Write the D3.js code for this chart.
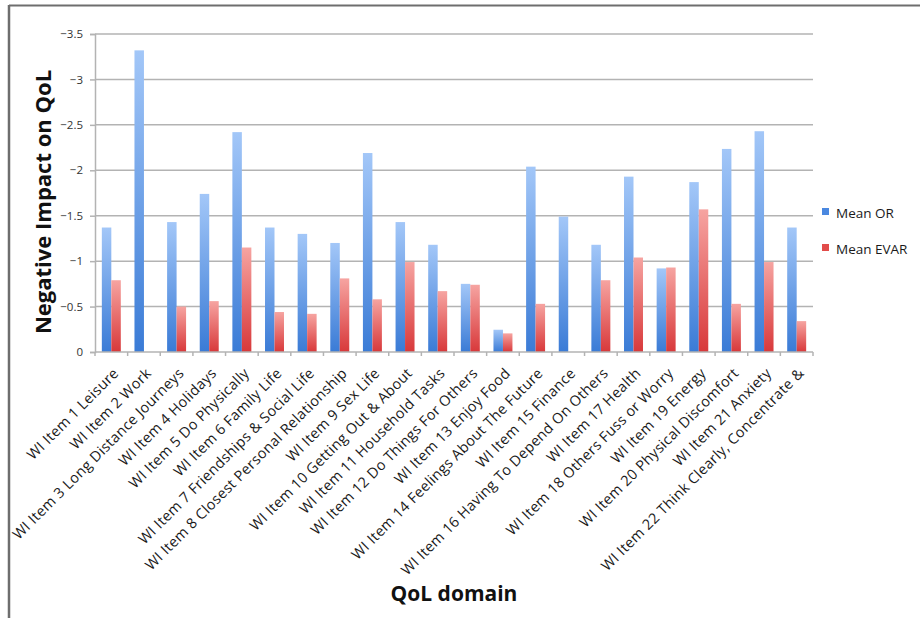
<!DOCTYPE html>
<html>
<head>
<meta charset="utf-8">
<script src="https://cdn.jsdelivr.net/npm/d3@7"></script>
<style>
  html, body { margin: 0; padding: 0; background: #fff; }
  svg { display: block; font-family: "Open Sans", "Noto Sans", sans-serif; }
</style>
</head>
<body>
<svg id="chart" width="920" height="618"></svg>
<script>
// QoL domains (x categories)
const categories = [
  "WI Item 1 Leisure",
  "WI Item 2 Work",
  "WI Item 3 Long Distance Journeys",
  "WI Item 4 Holidays",
  "WI Item 5 Do Physically",
  "WI Item 6 Family Life",
  "WI Item 7 Friendships & Social Life",
  "WI Item 8 Closest Personal Relationship",
  "WI Item 9 Sex Life",
  "WI Item 10 Getting Out & About",
  "WI Item 11 Household Tasks",
  "WI Item 12 Do Things For Others",
  "WI Item 13 Enjoy Food",
  "WI Item 14 Feelings About The Future",
  "WI Item 15 Finance",
  "WI Item 16 Having To Depend On Others",
  "WI Item 17 Health",
  "WI Item 18 Others Fuss or Worry",
  "WI Item 19 Energy",
  "WI Item 20 Physical Discomfort",
  "WI Item 21 Anxiety",
  "WI Item 22 Think Clearly, Concentrate &"
];

const seriesNames = ["Mean OR", "Mean EVAR"];

const meanOR = [-1.37, -3.32, -1.43, -1.74, -2.42, -1.37, -1.30, -1.20, -2.19, -1.43, -1.18,
                -0.75, -0.245, -2.04, -1.49, -1.18, -1.93, -0.92, -1.87, -2.235, -2.43, -1.37];
const meanEVAR = [-0.79, 0, -0.50, -0.56, -1.15, -0.44, -0.42, -0.81, -0.58, -0.99, -0.67,
                  -0.74, -0.205, -0.53, 0, -0.79, -1.04, -0.93, -1.57, -0.53, -0.99, -0.34];

const yTicks = [0, -0.5, -1, -1.5, -2, -2.5, -3, -3.5];

const svg = d3.select("#chart");
const plotLeft = 95, plotRight = 813, plotTop = 34, plotBottom = 352;

// frame lines
svg.append("line").attr("x1", 9).attr("x2", 920).attr("y1", 5.5).attr("y2", 5.5)
  .attr("stroke", "#6e6e6e").attr("stroke-width", 2);
svg.append("line").attr("x1", 9).attr("x2", 9).attr("y1", 5).attr("y2", 618)
  .attr("stroke", "#6e6e6e").attr("stroke-width", 2.5);

const x = d3.scaleBand().domain(categories).range([plotLeft, plotRight]).padding(0);
const xs = d3.scaleBand().domain(seriesNames).range([0, x.bandwidth()])
  .paddingInner(0).paddingOuter(0.72);
// values are negative; more negative goes up
const y = d3.scaleLinear().domain([0, -3.5]).range([plotBottom, plotTop]);

// gradients for bars
const defs = svg.append("defs");
const grads = [
  { id: "gOR", c0: "#a3c7f8", c1: "#3a7bd6" },
  { id: "gEVAR", c0: "#f6a4a1", c1: "#d8383a" }
];
grads.forEach(g => {
  const lg = defs.append("linearGradient").attr("id", g.id)
    .attr("x1", 0).attr("y1", 0).attr("x2", 0).attr("y2", 1);
  lg.append("stop").attr("offset", "0%").attr("stop-color", g.c0);
  lg.append("stop").attr("offset", "100%").attr("stop-color", g.c1);
});

// gridlines
svg.append("g").selectAll("line").data(yTicks.filter(d => d !== 0)).join("line")
  .attr("x1", plotLeft).attr("x2", plotRight)
  .attr("y1", d => y(d)).attr("y2", d => y(d))
  .attr("stroke", "#b3b3b3").attr("stroke-width", 1.5);

// y axis
const yAxis = svg.append("g").attr("transform", `translate(${plotLeft},0)`)
  .call(d3.axisLeft(y).tickValues(yTicks).tickFormat(d => d3.format("")(d)).tickSize(5).tickPadding(7));
yAxis.select(".domain").attr("stroke", "#b3b3b3").attr("stroke-width", 1.5);
yAxis.selectAll(".tick line").attr("stroke", "#b3b3b3").attr("stroke-width", 1.5);
yAxis.selectAll(".tick text").attr("font-size", 11.5).attr("fill", "#333")
  .attr("font-family", "\"Open Sans\", sans-serif");

// bars
const data = categories.map((c, i) => ({ c, vals: [meanOR[i], meanEVAR[i]] }));
const groups = svg.append("g").selectAll("g").data(data).join("g")
  .attr("transform", d => `translate(${x(d.c)},0)`);
groups.selectAll("rect")
  .data(d => d.vals.map((v, j) => ({ s: seriesNames[j], v, j })).filter(d => d.v !== 0))
  .join("rect")
  .attr("x", d => xs(d.s))
  .attr("width", xs.bandwidth())
  .attr("y", d => y(d.v))
  .attr("height", d => y(0) - y(d.v))
  .attr("fill", d => `url(#${grads[d.j].id})`);

// x axis
const xAxis = svg.append("g").attr("transform", `translate(0,${plotBottom})`);
xAxis.append("line").attr("x1", plotLeft).attr("x2", plotRight).attr("y1", 0).attr("y2", 0)
  .attr("stroke", "#b3b3b3").attr("stroke-width", 1.5);
xAxis.selectAll("line.tk").data(d3.range(categories.length + 1))
  .join("line").attr("class", "tk")
  .attr("x1", i => plotLeft + i * x.step()).attr("x2", i => plotLeft + i * x.step())
  .attr("y1", 0).attr("y2", 4)
  .attr("stroke", "#b3b3b3").attr("stroke-width", 1.5);
xAxis.selectAll("text").data(categories).join("text")
  .attr("transform", d => `translate(${x(d) + x.bandwidth() / 2 + 1},${15}) rotate(-45)`)
  .attr("text-anchor", "end")
  .attr("dy", "0.7em")
  .attr("font-size", 14.5)
  .attr("letter-spacing", 0.3)
  .attr("fill", "#1a1a1a")
  .text(d => d);

// axis titles
svg.append("text")
  .attr("transform", "translate(51,202) rotate(-90)")
  .attr("text-anchor", "middle")
  .attr("font-size", 22).attr("font-weight", "bold").attr("fill", "#111")
  .text("Negative Impact on QoL");
svg.append("text")
  .attr("x", 454).attr("y", 601)
  .attr("text-anchor", "middle")
  .attr("font-size", 21).attr("font-weight", "bold").attr("fill", "#111")
  .text("QoL domain");

// legend
const legend = svg.append("g").attr("transform", "translate(822,0)");
const ly = [213, 249];
seriesNames.forEach((s, j) => {
  legend.append("rect").attr("x", 0).attr("y", ly[j] - 5).attr("width", 7).attr("height", 7)
    .attr("fill", j === 0 ? "#4a88e0" : "#e24c4a");
  legend.append("text").attr("x", 14).attr("y", ly[j]).attr("dy", "0.35em")
    .attr("font-size", 13.5).attr("fill", "#1a1a1a").text(s);
});
</script>
</body>
</html>
